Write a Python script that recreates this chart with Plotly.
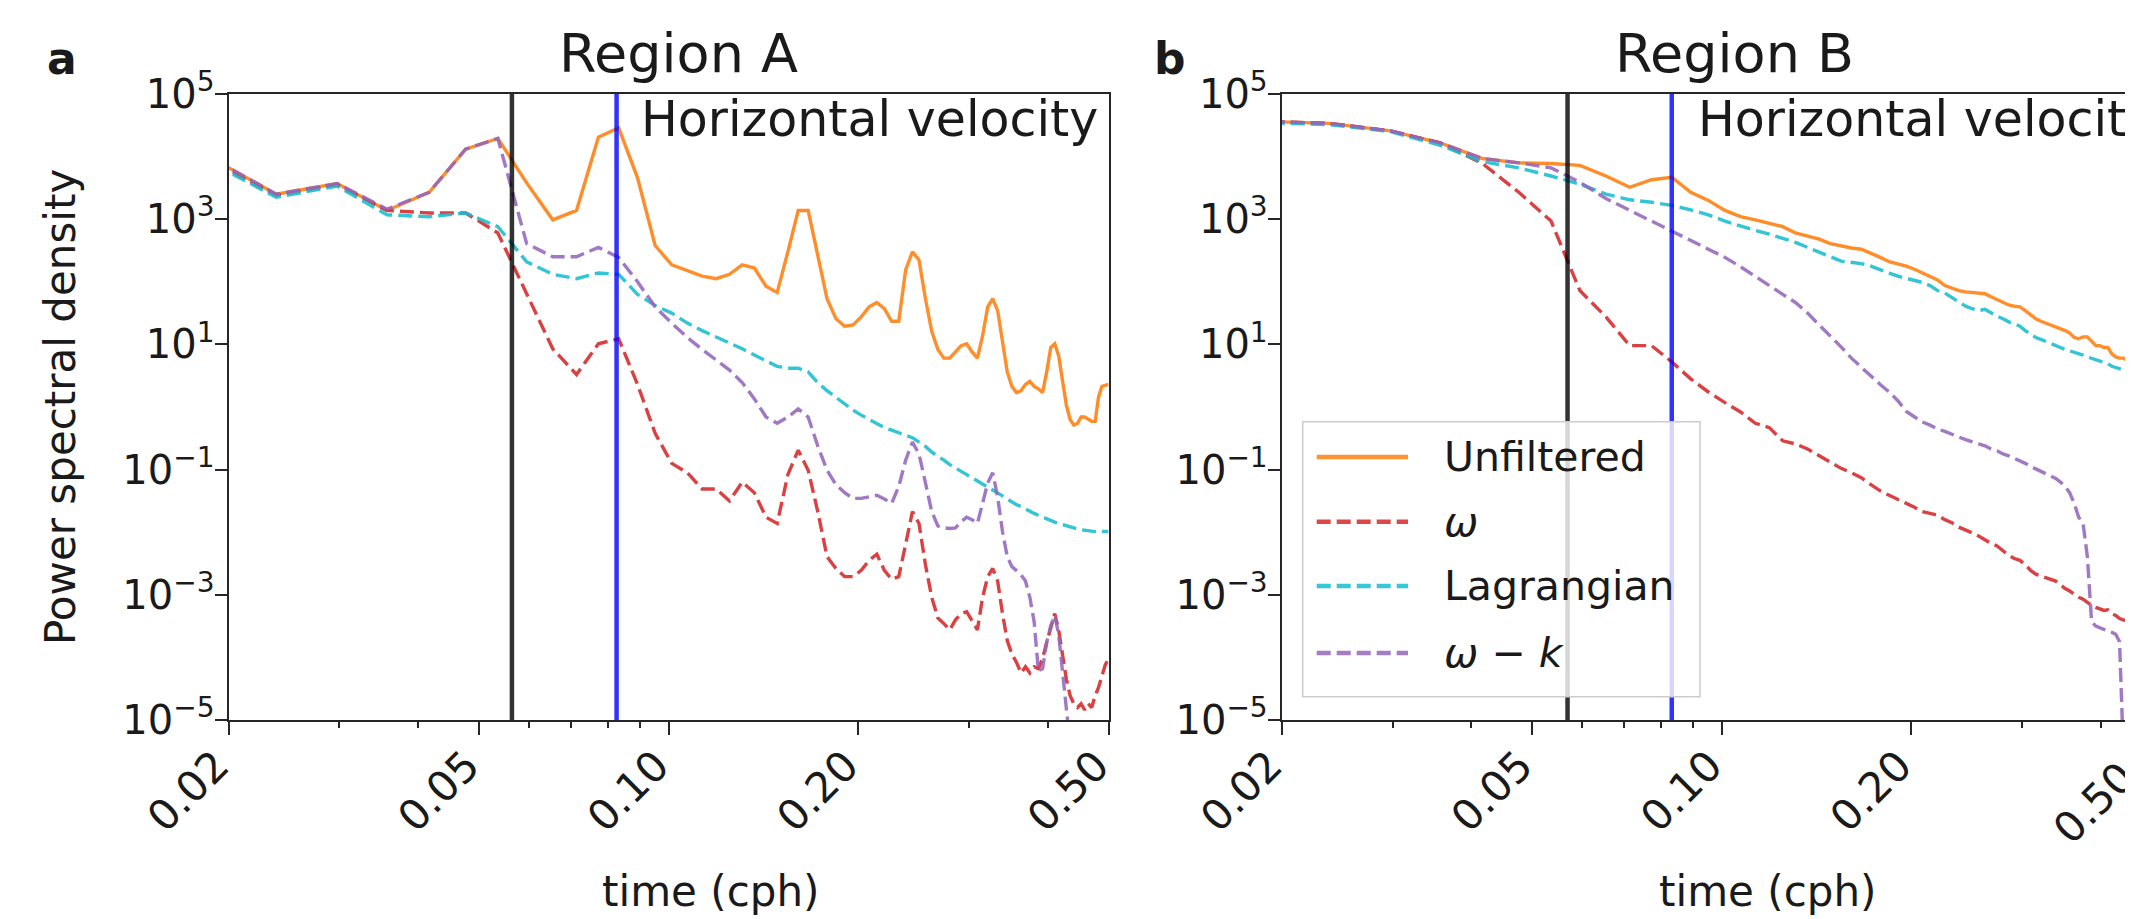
import numpy as np
import plotly.graph_objects as go

# ---------------- data ----------------
# frequency grid (cph): n / 168, n = 3 .. 84  (one-week record resolution)
n_idx = list(range(3, 85))
freq = [n / 168 for n in n_idx]

# Region A, log10 of power spectral density
a_unfiltered_log10 = [4.10, 3.40, 3.57, 3.14, 3.43, 4.12, 4.29, 3.58, 2.99, 3.14,
                      4.31, 4.46, 3.66, 2.58, 2.27, 2.17, 2.09, 2.05, 2.12, 2.27,
                      2.22, 1.93, 1.83, 2.48, 3.14, 3.14, 2.45, 1.73, 1.41, 1.29,
                      1.31, 1.44, 1.60, 1.67, 1.57, 1.37, 1.37, 2.19, 2.48, 2.35,
                      1.73, 1.21, 0.92, 0.78, 0.78, 0.88, 0.98, 1.01, 0.88, 0.78,
                      1.14, 1.60, 1.73, 1.54, 1.01, 0.56, 0.33, 0.23, 0.26, 0.36,
                      0.41, 0.33, 0.29, 0.23, 0.56, 0.95, 1.01, 0.82, 0.42, 0.03,
                      -0.20, -0.29, -0.26, -0.16, -0.16, -0.20, -0.23, -0.23, 0.16, 0.33,
                      0.35, 0.36]
a_omega_log10 = [4.05, 3.38, 3.55, 3.14, 3.10, 3.10, 2.78, 1.82, 0.93, 0.52,
                 1.01, 1.09, 0.36, -0.42, -0.90, -1.05, -1.31, -1.31, -1.50, -1.20,
                 -1.37, -1.76, -1.86, -1.08, -0.69, -1.01, -1.67, -2.39, -2.58, -2.71,
                 -2.71, -2.61, -2.45, -2.35, -2.61, -2.75, -2.71, -2.19, -1.67, -1.86,
                 -2.52, -3.04, -3.37, -3.46, -3.56, -3.40, -3.30, -3.27, -3.43, -3.56,
                 -3.04, -2.71, -2.58, -2.78, -3.30, -3.73, -3.95, -4.08, -4.25, -4.15,
                 -4.25, -4.15, -4.18, -4.02, -3.76, -3.50, -3.30, -3.56, -3.95, -4.35,
                 -4.61, -4.74, -4.80, -4.74, -4.84, -4.74, -4.80, -4.61, -4.48, -4.29,
                 -4.12, -4.02]
a_lagrangian_log10 = [4.02, 3.35, 3.53, 3.07, 3.04, 3.10, 2.88, 2.32, 2.12, 2.05,
                      2.14, 2.12, 1.80, 1.62, 1.50, 1.34, 1.22, 1.12, 1.03, 0.93,
                      0.83, 0.74, 0.65, 0.62, 0.62, 0.56, 0.39, 0.26, 0.15, 0.05,
                      -0.05, -0.13, -0.20, -0.26, -0.33, -0.37, -0.41, -0.44, -0.49, -0.56,
                      -0.63, -0.72, -0.78, -0.85, -0.92, -0.97, -1.03, -1.08, -1.13, -1.18,
                      -1.23, -1.27, -1.33, -1.37, -1.42, -1.47, -1.52, -1.56, -1.59, -1.63,
                      -1.67, -1.70, -1.73, -1.76, -1.79, -1.82, -1.84, -1.86, -1.88, -1.90,
                      -1.92, -1.93, -1.95, -1.96, -1.97, -1.97, -1.98, -1.99, -1.99, -1.99,
                      -1.99, -1.99]
a_omega_k_log10 = [4.10, 3.40, 3.57, 3.16, 3.43, 4.12, 4.29, 2.61, 2.40, 2.40,
                   2.55, 2.39, 2.00, 1.60, 1.34, 1.11, 0.92, 0.75, 0.59, 0.39,
                   0.13, -0.16, -0.26, -0.16, -0.03, -0.16, -0.62, -1.01, -1.24, -1.37,
                   -1.46, -1.46, -1.44, -1.41, -1.47, -1.54, -1.27, -0.85, -0.56, -0.75,
                   -1.21, -1.67, -1.90, -1.93, -1.94, -1.93, -1.83, -1.76, -1.80, -1.86,
                   -1.54, -1.21, -1.05, -1.44, -1.99, -2.39, -2.55, -2.61, -2.68, -2.78,
                   -3.04, -3.43, -4.22, -4.18, -3.76, -3.50, -3.33, -3.63, -4.22, -4.74,
                   -5.40]

# Region B, log10 of power spectral density
b_unfiltered_log10 = [4.57, 4.53, 4.41, 4.22, 3.97, 3.90, 3.89, 3.86, 3.69, 3.51,
                      3.63, 3.67, 3.43, 3.30, 3.14, 3.04, 2.99, 2.94, 2.88, 2.78,
                      2.73, 2.68, 2.61, 2.57, 2.54, 2.52, 2.46, 2.39, 2.32, 2.29,
                      2.25, 2.20, 2.14, 2.09, 2.03, 1.94, 1.90, 1.86, 1.84, 1.83,
                      1.82, 1.81, 1.76, 1.72, 1.68, 1.63, 1.61, 1.60, 1.54, 1.47,
                      1.41, 1.37, 1.34, 1.31, 1.27, 1.25, 1.22, 1.18, 1.11, 1.09,
                      1.12, 1.12, 1.05, 0.98, 0.98, 0.95, 0.95, 0.85, 0.80, 0.78,
                      0.78, 0.75, 0.74, 0.72, 0.70, 0.68]
b_omega_log10 = [4.57, 4.53, 4.41, 4.22, 3.89, 3.43, 2.97, 1.86, 1.44, 0.98,
                 0.98, 0.72, 0.45, 0.24, 0.07, -0.08, -0.26, -0.33, -0.54, -0.59,
                 -0.67, -0.78, -0.88, -0.98, -1.05, -1.13, -1.24, -1.34, -1.41, -1.47,
                 -1.54, -1.60, -1.67, -1.70, -1.73, -1.80, -1.85, -1.92, -1.96, -2.01,
                 -2.06, -2.12, -2.18, -2.22, -2.29, -2.37, -2.42, -2.45, -2.52, -2.61,
                 -2.67, -2.70, -2.73, -2.75, -2.78, -2.84, -2.90, -2.94, -2.99, -3.04,
                 -3.07, -3.12, -3.17, -3.20, -3.22, -3.25, -3.24, -3.30, -3.33, -3.38,
                 -3.40, -3.41, -3.43, -3.44, -3.46, -3.48]
b_lagrangian_log10 = [4.55, 4.51, 4.40, 4.18, 3.92, 3.82, 3.69, 3.56, 3.40, 3.31,
                      3.27, 3.22, 3.15, 3.07, 2.97, 2.89, 2.82, 2.76, 2.70, 2.63,
                      2.55, 2.48, 2.40, 2.33, 2.31, 2.29, 2.25, 2.20, 2.14, 2.09,
                      2.06, 2.03, 1.99, 1.94, 1.86, 1.82, 1.75, 1.67, 1.61, 1.57,
                      1.54, 1.56, 1.50, 1.45, 1.41, 1.36, 1.33, 1.29, 1.22, 1.16,
                      1.11, 1.08, 1.05, 1.01, 0.98, 0.95, 0.92, 0.90, 0.87, 0.85,
                      0.83, 0.80, 0.78, 0.75, 0.73, 0.71, 0.69, 0.65, 0.63, 0.61,
                      0.59, 0.57, 0.56, 0.54, 0.52, 0.50]
b_omega_k_log10 = [4.57, 4.53, 4.41, 4.22, 3.97, 3.90, 3.82, 3.59, 3.33, 3.14,
                   2.97, 2.81, 2.65, 2.52, 2.39, 2.24, 2.08, 1.94, 1.80, 1.67,
                   1.50, 1.31, 1.14, 0.96, 0.78, 0.63, 0.49, 0.36, 0.24, 0.10,
                   -0.07, -0.16, -0.24, -0.29, -0.35, -0.39, -0.44, -0.48, -0.52, -0.56,
                   -0.59, -0.62, -0.67, -0.70, -0.75, -0.78, -0.82, -0.86, -0.90, -0.95,
                   -0.99, -1.03, -1.07, -1.11, -1.14, -1.20, -1.27, -1.37, -1.54, -1.76,
                   -1.86, -2.39, -3.43, -3.50, -3.53, -3.55, -3.58, -3.60, -3.63, -3.75,
                   -5.50]

# reference frequencies (cph): inertial (black) and semidiurnal (blue)
a_inertial, a_semidiurnal = 0.0564, 0.0827
b_inertial, b_semidiurnal = 0.0569, 0.0833

series_names = ["Unfiltered", "ω", "Lagrangian", "ω−k"]
legend_labels = ["Unfiltered", "<i>ω</i>", "Lagrangian", "<i>ω</i> − <i>k</i>"]
colors = ["#ff7f0e", "#d62728", "#17becf", "#9467bd"]
dashes = ["solid", "14px,6px", "14px,6px", "14px,6px"]

x_major = [0.02, 0.05, 0.1, 0.2, 0.5]
x_major_text = ["0.02", "0.05", "0.10", "0.20", "0.50"]
x_minor = [0.03, 0.04, 0.06, 0.07, 0.08, 0.09, 0.3, 0.4]
y_major = [1e-5, 1e-3, 1e-1, 1e1, 1e3, 1e5]
y_major_text = ["10<sup>−5</sup>", "10<sup>−3</sup>", "10<sup>−1</sup>",
                "10<sup>1</sup>", "10<sup>3</sup>", "10<sup>5</sup>"]

# ---------------- layout geometry (page pixels) ----------------
PAGE_W, PAGE_H = 2133, 919
OX, OY = 8, 8                      # default body margin of the html page
W, H = PAGE_W - OX, PAGE_H - OY
FONT = "DejaVu Sans"
TXT = "#1a1a1a"
XT_SIZE = 42


def px(x):
    return (x - OX) / W


def py(y):
    return 1 - (y - OY) / H


a_left, a_right = 228.5, 1108.5
b_left = 1281.7
top, bottom = 94, 720
dec_px = (a_right - a_left) / (np.log10(0.5) - np.log10(0.02))
b_range_end = np.log10(0.02) + (PAGE_W - b_left) / dec_px

fig = go.Figure()

panels = [
    ("x", "y", [a_unfiltered_log10, a_omega_log10, a_lagrangian_log10, a_omega_k_log10]),
    ("x2", "y2", [b_unfiltered_log10, b_omega_log10, b_lagrangian_log10, b_omega_k_log10]),
]
for xa, ya, series in panels:
    for name, vals, col, dash in zip(series_names, series, colors, dashes):
        fig.add_trace(go.Scatter(
            x=freq[:len(vals)], y=10 ** np.array(vals), mode="lines", name=name,
            line=dict(color=col, width=3.4, dash=dash), opacity=0.88,
            showlegend=False, xaxis=xa, yaxis=ya))

axis_common = dict(showline=True, linecolor="#262626", linewidth=2, mirror=True,
                   showgrid=False, zeroline=False, ticks="outside", automargin=False,
                   tickcolor="#262626", tickwidth=2, color=TXT)
xcommon = dict(axis_common, type="log", tickmode="array", tickvals=x_major,
               ticktext=x_major_text, ticklen=13, tickangle=-45,
               ticklabelstandoff=-11, ticklabelshift=-12,
               tickfont=dict(family=FONT, size=XT_SIZE, color=TXT),
               minor=dict(tickmode="array", tickvals=x_minor, ticks="outside",
                          ticklen=6, tickwidth=1.5, tickcolor="#262626"))
ycommon = dict(axis_common, type="log", tickmode="array", tickvals=y_major,
               ticktext=y_major_text, ticklen=12, range=[-5, 5],
               ticklabelstandoff=-8,
               tickfont=dict(family=FONT, size=40, color=TXT))

fig.update_layout(
    template="none",
    width=W, height=H, margin=dict(l=0, r=0, t=0, b=0, pad=0), autosize=False,
    paper_bgcolor="white", plot_bgcolor="white",
    xaxis=dict(xcommon, domain=[px(a_left), px(a_right)], anchor="y",
               range=[np.log10(0.02), np.log10(0.5)]),
    yaxis=dict(ycommon, domain=[py(bottom), py(top)], anchor="x"),
    xaxis2=dict(xcommon, domain=[px(b_left), 1.0], anchor="y2",
                range=[np.log10(0.02), b_range_end]),
    yaxis2=dict(ycommon, mirror=False, domain=[py(bottom), py(top)], anchor="x2"),
)

# vertical reference lines
for xr, yr, f_in, f_sd in [("x", "y", a_inertial, a_semidiurnal),
                           ("x2", "y2", b_inertial, b_semidiurnal)]:
    fig.add_shape(type="line", xref=xr, yref=yr + " domain", x0=f_in, x1=f_in,
                  y0=0, y1=1, line=dict(color="rgba(0,0,0,0.8)", width=4.5), layer="above")
    fig.add_shape(type="line", xref=xr, yref=yr + " domain", x0=f_sd, x1=f_sd,
                  y0=0, y1=1, line=dict(color="rgba(0,0,255,0.8)", width=4.5), layer="above")

# legend (panel b)
lg_x0, lg_y0, lg_x1, lg_y1 = 1302.7, 421.7, 1700, 696.7
fig.add_shape(type="rect", xref="paper", yref="paper",
              x0=px(lg_x0), x1=px(lg_x1), y0=py(lg_y1), y1=py(lg_y0),
              line=dict(color="#cccccc", width=1.5),
              fillcolor="rgba(255,255,255,0.8)", layer="above")
row_y = [457, 521.7, 586, 653]
for lab, col, dash, ry in zip(legend_labels, colors, dashes, row_y):
    fig.add_shape(type="line", xref="paper", yref="paper",
                  x0=px(1316.7), x1=px(1408), y0=py(ry), y1=py(ry),
                  line=dict(color=col, width=4.5, dash=dash), opacity=0.85, layer="above")
    fig.add_annotation(text=lab, xref="paper", yref="paper", x=px(1441.7), y=py(ry),
                       xanchor="left", yanchor="middle", showarrow=False,
                       font=dict(family=FONT, size=41, color=TXT))

texts = [
    # text, x, y, size, anchor, angle
    ("<b>a</b>", 61.5, 58, 44, "center", 0),
    ("<b>b</b>", 1170, 58, 44, "center", 0),
    ("Region A", 678, 54, 54, "center", 0),
    ("Region B", 1734, 54, 54, "center", 0),
    ("Horizontal velocity", 639, 120, 49, "left", 0),
    ("Horizontal velocity", 1696, 120, 49, "left", 0),
    ("time (cph)", 710, 891, 42, "center", 0),
    ("time (cph)", 1767, 891, 42, "center", 0),
    ("Power spectral density", 60, 407, 42, "center", -90),
]
for t, x, y, s, xa, ang in texts:
    fig.add_annotation(text=t, xref="paper", yref="paper", x=px(x), y=py(y),
                       xanchor=xa, yanchor="middle", showarrow=False, textangle=ang,
                       font=dict(family=FONT, size=s, color=TXT))

# tick label of panel b at 0.50 (axis extends past the right edge of the figure)
b_tick_050 = b_left + dec_px * (np.log10(0.5) - np.log10(0.02))
fig.add_annotation(text="0.50", xref="paper", yref="paper", x=px(b_tick_050 - 14),
                   y=py(749), xanchor="right", yanchor="top", showarrow=False,
                   textangle=-45, font=dict(family=FONT, size=XT_SIZE, color=TXT))

fig.write_html("out.html")
